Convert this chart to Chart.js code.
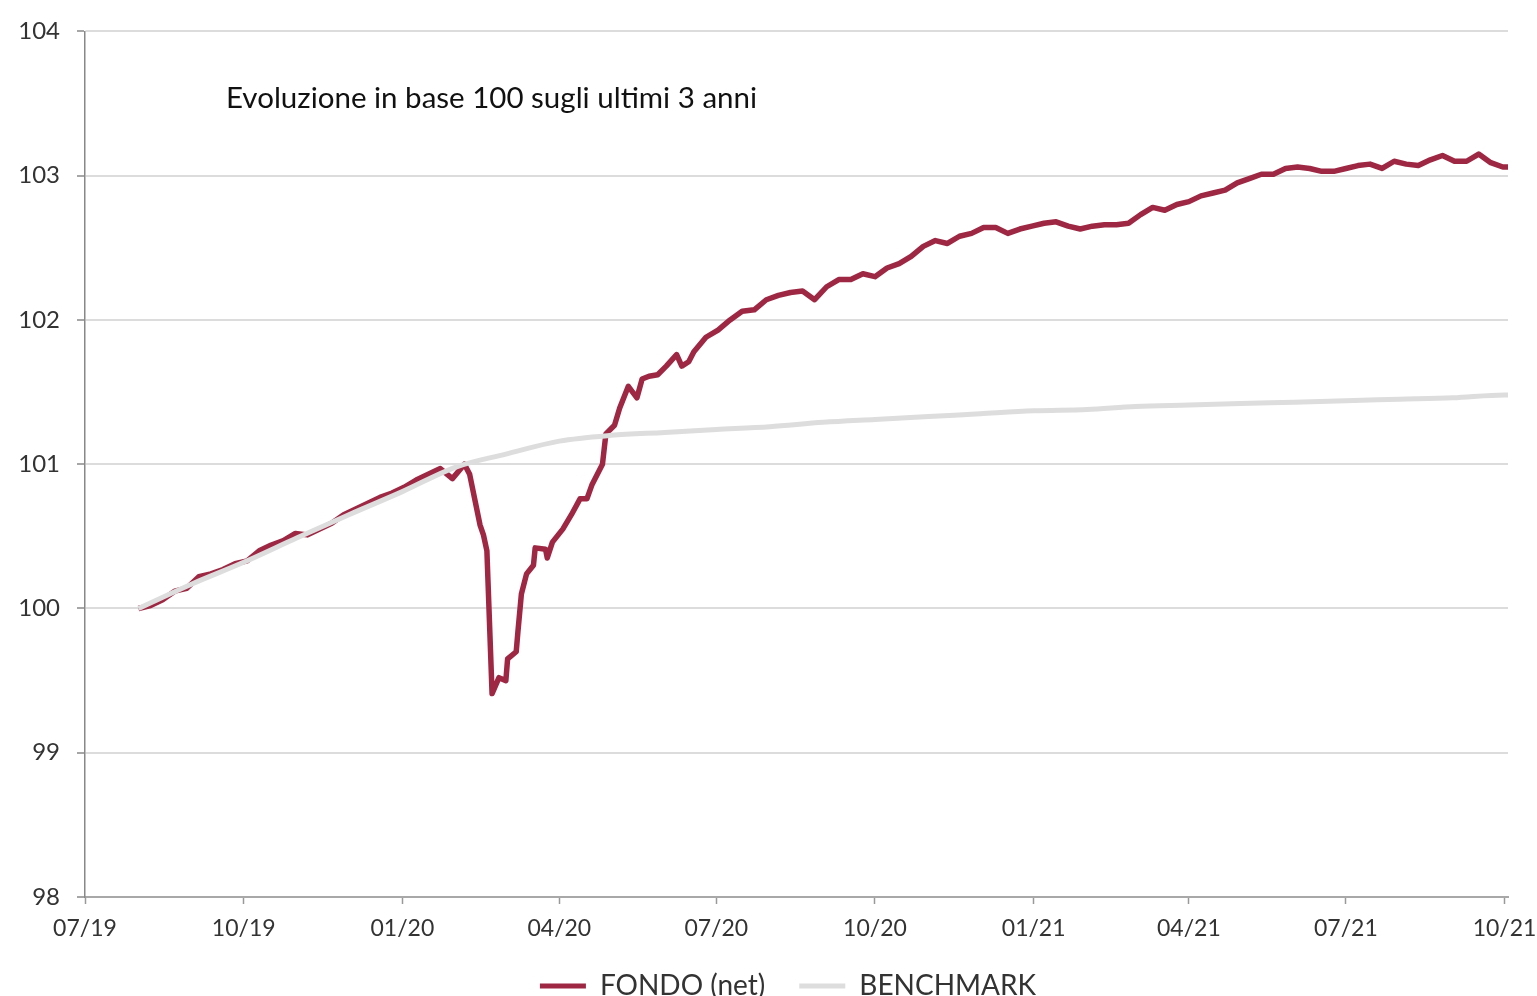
<!DOCTYPE html>
<html>
<head>
<meta charset="utf-8">
<script src="https://cdn.jsdelivr.net/npm/chart.js@4.4.0/dist/chart.umd.min.js"></script>
<style>
  html, body { margin: 0; padding: 0; background: #fff; }
  #wrap { width: 1537px; height: 996px; position: relative; }
</style>
</head>
<body>
<div id="wrap"><canvas id="chart"></canvas></div>
<script>
// days counted from 01/07/2019
const tickDays = [0, 92, 184, 275, 366, 458, 550, 640, 731, 823];
const tickLabels = ['07/19', '10/19', '01/20', '04/20', '07/20', '10/20', '01/21', '04/21', '07/21', '10/21'];

const fundDays = [
    31, 38, 45, 52, 59, 66, 73, 80, 87, 94, 101, 108, 115, 122, 129, 136, 143, 150, 157, 164,
    171, 178, 185, 192, 199, 206, 213, 220,
    223, 229, 231, 233, 236, 240, 244, 245, 250, 251, 253, 256, 260, 261, 267, 268, 271, 277,
    282, 287, 291, 294, 300, 302, 307, 310, 315, 320, 323, 327, 332, 337, 343, 346, 350,
    353, 360, 367, 374, 381, 388, 395, 402, 409, 416, 423, 430, 437, 444, 451, 458, 465, 472,
    479, 486, 493, 500, 507, 514, 521, 528, 535, 542, 549, 556, 563, 570, 577, 584, 591, 598,
    605, 612, 619, 626, 633, 640, 647, 654, 661, 668, 675, 682, 689, 696, 703, 710, 717, 724,
    731, 738, 745, 752, 759, 766, 773, 780, 787, 794, 801, 808, 815, 822, 825
];
const fundValues = [
    100.00, 100.02, 100.06, 100.12, 100.14, 100.22, 100.24, 100.27, 100.31, 100.33, 100.40, 100.44,
    100.47, 100.52, 100.51, 100.55, 100.59, 100.65, 100.69, 100.73, 100.77, 100.80, 100.84, 100.89,
    100.93, 100.97, 100.90, 101.00,
    100.93, 100.58, 100.51, 100.40, 99.41, 99.52, 99.50, 99.65, 99.70, 99.84, 100.10, 100.24,
    100.30, 100.42, 100.41, 100.35, 100.46, 100.55, 100.65, 100.76, 100.76, 100.86, 101.00, 101.21,
    101.27, 101.39, 101.54, 101.46, 101.59, 101.61, 101.62, 101.68, 101.76, 101.68, 101.71,
    101.78, 101.88, 101.93, 102.00, 102.06, 102.07, 102.14, 102.17, 102.19, 102.20, 102.14, 102.23,
    102.28, 102.28, 102.32, 102.30, 102.36, 102.39, 102.44, 102.51, 102.55, 102.53, 102.58, 102.60,
    102.64, 102.64, 102.60, 102.63, 102.65, 102.67, 102.68, 102.65, 102.63, 102.65, 102.66, 102.66,
    102.67, 102.73, 102.78, 102.76, 102.80, 102.82, 102.86, 102.88, 102.90, 102.95, 102.98, 103.01,
    103.01, 103.05, 103.06, 103.05, 103.03, 103.03, 103.05, 103.07, 103.08, 103.05, 103.10, 103.08,
    103.07, 103.11, 103.14, 103.10, 103.10, 103.15, 103.09, 103.06, 103.06
];

const benchDays = [31, 62, 92, 123, 153, 184, 215, 244, 275, 305, 336, 366, 397, 428, 458, 489, 519, 550, 581, 609, 640, 670, 701, 731, 762, 793, 823, 825];
const benchValues = [
    100.00, 100.17, 100.32, 100.49, 100.65, 100.81, 100.98, 101.07, 101.16, 101.20, 101.22, 101.24,
    101.26, 101.29, 101.31, 101.33, 101.35, 101.37, 101.38, 101.40, 101.41, 101.42, 101.43, 101.44,
    101.45, 101.46, 101.48, 101.48
];

const TITLE = 'Evoluzione in base 100 sugli ultimi 3 anni';
const FONT = 'Lato, "Open Sans", sans-serif';
const FUND_COLOR = '#9e2743';
const BENCH_COLOR = '#dddddd';

const toPoints = (xs, ys) => xs.map((x, i) => ({ x: x, y: ys[i] }));

// title inside the plot area + let tick labels spill out of their shortened axis boxes
const innerTitle = {
    id: 'innerTitle',
    afterLayout(chart) {
        chart.scales.x.bottom = chart.height;
        chart.scales.y.left = 0;
    },
    afterDraw(chart) {
        const { ctx, chartArea } = chart;
        ctx.save();
        ctx.font = '29.5px ' + FONT;
        ctx.fillStyle = '#111';
        ctx.textBaseline = 'alphabetic';
        ctx.fillText(TITLE, chartArea.left + 141, chartArea.top + 77);
        ctx.restore();
    }
};

const ctx = document.getElementById('chart').getContext('2d');
new Chart(ctx, {
    type: 'line',
    data: {
        datasets: [
            {
                label: 'FONDO (net)',
                data: toPoints(fundDays, fundValues),
                borderColor: FUND_COLOR,
                backgroundColor: FUND_COLOR,
                borderWidth: 5.5,
                pointRadius: 0,
                tension: 0,
                borderJoinStyle: 'round',
                order: 2
            },
            {
                label: 'BENCHMARK',
                data: toPoints(benchDays, benchValues),
                borderColor: BENCH_COLOR,
                backgroundColor: BENCH_COLOR,
                borderWidth: 5,
                pointRadius: 0,
                cubicInterpolationMode: 'monotone',
                order: 1
            }
        ]
    },
    options: {
        responsive: true,
        maintainAspectRatio: false,
        animation: false,
        layout: { padding: { top: 30, right: 29, left: 68, bottom: -14 } },
        plugins: {
            legend: {
                position: 'bottom',
                labels: {
                    boxWidth: 46,
                    boxHeight: 5,
                    padding: 34,
                    color: '#333',
                    font: { family: FONT, size: 28 },
                    sort: (a, b) => a.datasetIndex - b.datasetIndex,
                    generateLabels: (chart) => Chart.defaults.plugins.legend.labels.generateLabels(chart)
                        .map(l => Object.assign(l, { lineWidth: 0 }))
                }
            },
            tooltip: { enabled: false }
        },
        scales: {
            x: {
                type: 'linear',
                min: 0,
                max: 825,
                afterBuildTicks: (scale) => { scale.ticks = tickDays.map(v => ({ value: v })); },
                afterFit: (scale) => { scale.height = 41; scale.paddingLeft = 0; scale.paddingRight = 0; },
                grid: { drawOnChartArea: false, tickLength: 7, tickColor: '#999', tickWidth: 1.5 },
                border: { color: '#a8a8a8', width: 2 },
                ticks: {
                    callback: (v) => tickLabels[tickDays.indexOf(v)],
                    padding: 11,
                    maxRotation: 0,
                    autoSkip: false,
                    color: '#333',
                    font: { family: FONT, size: 23 }
                }
            },
            y: {
                min: 98,
                max: 104,
                afterFit: (scale) => { scale.width = 17; },
                grid: { color: '#dcdcdc', lineWidth: 2, tickLength: 8, tickColor: '#888', tickWidth: 1.5 },
                border: { color: '#888', width: 1.5 },
                ticks: { stepSize: 1, padding: 17, color: '#333', font: { family: FONT, size: 24 } }
            }
        }
    },
    plugins: [innerTitle]
});
</script>
</body>
</html>
